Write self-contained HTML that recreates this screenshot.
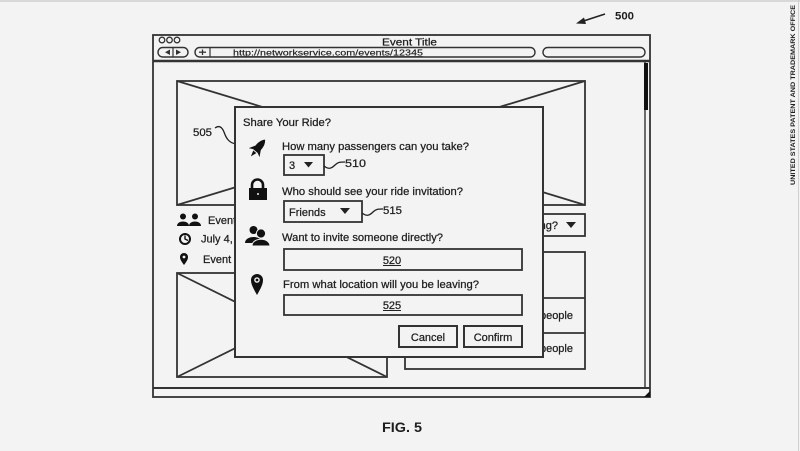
<!DOCTYPE html>
<html><head><meta charset="utf-8"><style>
html,body{margin:0;padding:0;background:#f3f3f3;}
svg{display:block;}
text{font-family:"Liberation Sans",Arial,sans-serif;fill:#1e1e1e;stroke:#1e1e1e;stroke-width:0.25;}
</style></head><body>
<svg width="800" height="451" viewBox="0 0 800 451" xmlns="http://www.w3.org/2000/svg">
<rect x="0" y="0" width="800" height="451" fill="#f3f3f3"/>
<line x1="0" y1="1" x2="800" y2="1" stroke="#d8d8d8" stroke-width="2"/>
<line x1="798.5" y1="0" x2="798.5" y2="451" stroke="#d0d0d0" stroke-width="1"/>

<!-- vertical side text -->
<text transform="translate(795,185) rotate(-90)" font-size="6.5" font-weight="bold" textLength="180" lengthAdjust="spacingAndGlyphs" fill="#333" style="stroke-width:0">UNITED STATES PATENT AND TRADEMARK OFFICE</text>

<!-- 500 label -->
<line x1="605" y1="14" x2="582" y2="21.5" stroke="#222" stroke-width="1.6"/>
<polygon points="576,23.5 584,17.5 586,24" fill="#222"/>
<text x="615" y="19.5" font-size="11" font-weight="bold" textLength="19" lengthAdjust="spacingAndGlyphs" style="stroke-width:0">500</text>

<!-- browser window -->
<g fill="none" stroke="#333" stroke-width="1.8">
<rect x="153" y="35" width="497" height="362"/>
<line x1="153" y1="61" x2="650" y2="61" stroke-width="2.4"/>
<line x1="153" y1="388" x2="650" y2="388" stroke-width="2"/>
<line x1="645" y1="61" x2="645" y2="388" stroke-width="1.4"/>
<circle cx="162" cy="40" r="2.8" stroke-width="1.3"/>
<circle cx="169.5" cy="40" r="2.8" stroke-width="1.3"/>
<circle cx="177" cy="40" r="2.8" stroke-width="1.3"/>
<rect x="158" y="47.5" width="30" height="9.5" rx="4.7" stroke-width="1.4"/>
<line x1="173" y1="48" x2="173" y2="57" stroke-width="1.2"/>
<rect x="195" y="47.5" width="340" height="9.5" rx="4.7" stroke-width="1.4"/>
<line x1="210" y1="48" x2="210" y2="57" stroke-width="1.2"/>
<rect x="543" y="47.5" width="102" height="9.5" rx="4.7" stroke-width="1.4"/>
</g>
<polygon points="165,52.2 170,49.5 170,55" fill="#333"/>
<polygon points="181,52.2 176,49.5 176,55" fill="#333"/>
<line x1="199" y1="52.2" x2="206" y2="52.2" stroke="#333" stroke-width="1.3"/>
<line x1="202.5" y1="49.5" x2="202.5" y2="55" stroke="#333" stroke-width="1.3"/>
<rect x="644" y="63" width="4" height="47" fill="#111"/>
<polygon points="644,397 650,391 650,397" fill="#111"/>
<text x="382" y="45.5" font-size="10" textLength="55" lengthAdjust="spacingAndGlyphs">Event Title</text>
<text x="233" y="55.5" font-size="8" textLength="190" lengthAdjust="spacingAndGlyphs" style="stroke-width:0.15">http://networkservice.com/events/12345</text>
<line x1="233" y1="56.5" x2="423" y2="56.5" stroke="#333" stroke-width="0.8"/>

<!-- top image placeholder -->
<g fill="none" stroke="#333" stroke-width="1.8">
<rect x="177" y="81" width="408" height="124"/>
<line x1="177" y1="81" x2="585" y2="205"/>
<line x1="585" y1="81" x2="177" y2="205"/>
<!-- bottom-left image placeholder -->
<rect x="177" y="273" width="210" height="104"/>
<line x1="177" y1="273" x2="387" y2="377"/>
<line x1="387" y1="273" x2="177" y2="377"/>
<!-- right dropdown -->
<rect x="420" y="214" width="165" height="22"/>
<!-- right panel -->
<rect x="405" y="252" width="180" height="117"/>
<line x1="405" y1="298" x2="585" y2="298"/>
<line x1="405" y1="333" x2="585" y2="333"/>
</g>
<text x="558" y="229" font-size="11" text-anchor="end">Leaving?</text>
<polygon points="566,222 576,222 571,228" fill="#222"/>
<text x="573" y="319" font-size="11" text-anchor="end">5 people</text>
<text x="573" y="352" font-size="11" text-anchor="end">3 people</text>

<!-- left info -->
<g fill="#111">
<circle cx="183" cy="216.5" r="3"/>
<path d="M177,226 C177,220 189,220 189,226 Z"/>
<circle cx="195" cy="216.5" r="3"/>
<path d="M189,226 C189,220 201,220 201,226 Z"/>
</g>
<g fill="none" stroke="#111">
<circle cx="185" cy="239" r="5" stroke-width="2"/>
<polyline points="185,235.5 185,239 188,240.5" stroke-width="1.4"/>
</g>
<path d="M184,265 C181,261 180,259 180,257 A4,4 0 0 1 188,257 C188,259 187,261 184,265 Z" fill="#111"/>
<circle cx="184" cy="257" r="1.4" fill="#f3f3f3"/>
<text x="208" y="224" font-size="11">Event Name</text>
<text x="201" y="242.5" font-size="11">July 4, 2014</text>
<text x="203" y="263" font-size="11">Event Location</text>

<!-- 505 label -->
<text x="193" y="136" font-size="11" textLength="19" lengthAdjust="spacingAndGlyphs">505</text>
<path d="M215,128 C219,125 222,127 224,132 C226,138 229,143 236,144" fill="none" stroke="#222" stroke-width="1.3"/>

<!-- dialog -->
<rect x="235" y="107" width="308" height="250" fill="#f3f3f3" stroke="#333" stroke-width="2"/>
<text x="243" y="126" font-size="11" textLength="88" lengthAdjust="spacingAndGlyphs">Share Your Ride?</text>

<!-- rocket -->
<g transform="translate(258,148) rotate(40)" fill="#111">
<path d="M0,-11 C4,-7 4,-1 3,4 L-3,4 C-4,-1 -4,-7 0,-11 Z"/>
<path d="M-3,-1 L-7,6 L-3,4 Z"/>
<path d="M3,-1 L7,6 L3,4 Z"/>
<path d="M-2,5 L0,11 L2,5 Z"/>
</g>
<text x="282" y="150" font-size="11" textLength="187" lengthAdjust="spacingAndGlyphs">How many passengers can you take?</text>
<rect x="284" y="155" width="40" height="20" fill="none" stroke="#333" stroke-width="1.8"/>
<text x="289" y="169" font-size="11">3</text>
<polygon points="304,162 313,162 308.5,167.5" fill="#222"/>
<path d="M324,166 C329,170 332,168 335,165 C338,162 340,162 345,162" fill="none" stroke="#222" stroke-width="1.3"/>
<text x="345" y="167" font-size="11" textLength="21" lengthAdjust="spacingAndGlyphs">510</text>

<!-- lock -->
<path d="M252,189 V185 A5.5,5.5 0 0 1 263,185 V189" fill="none" stroke="#111" stroke-width="2.6"/>
<rect x="249" y="188" width="18" height="12" fill="#111"/>
<circle cx="258" cy="194" r="1" fill="#f3f3f3"/>
<text x="282" y="195" font-size="11" textLength="181" lengthAdjust="spacingAndGlyphs">Who should see your ride invitation?</text>
<rect x="284" y="201" width="78" height="21" fill="none" stroke="#333" stroke-width="1.8"/>
<text x="289" y="216" font-size="11">Friends</text>
<polygon points="340,208 350,208 345,214" fill="#222"/>
<path d="M362,213 C367,217 370,215 373,212 C376,209 378,209 383,209" fill="none" stroke="#222" stroke-width="1.3"/>
<text x="383" y="214" font-size="11" textLength="19" lengthAdjust="spacingAndGlyphs">515</text>

<!-- people -->
<g fill="#111">
<circle cx="253.5" cy="230" r="4"/>
<path d="M245,243 C245,235 262,235 262,243 Z"/>
</g>
<g fill="#111" stroke="#f3f3f3" stroke-width="1">
<circle cx="261" cy="233.5" r="4.6"/>
<path d="M252,246 C252,237 270,237 270,246 Z"/>
</g>
<text x="282" y="241" font-size="11" textLength="161" lengthAdjust="spacingAndGlyphs">Want to invite someone directly?</text>
<rect x="284" y="249" width="238" height="21" fill="none" stroke="#333" stroke-width="1.8"/>
<text x="392" y="264" font-size="11" text-anchor="middle">520</text>
<line x1="383" y1="265.5" x2="401" y2="265.5" stroke="#222" stroke-width="0.9"/>

<!-- pin -->
<path d="M257,295 C253,288 251,284 251,280 A6,6 0 0 1 263,280 C263,284 261,288 257,295 Z" fill="#111"/>
<circle cx="257" cy="280" r="2.8" fill="#f3f3f3"/>
<circle cx="257" cy="280" r="1.4" fill="#111"/>
<text x="283" y="288" font-size="11" textLength="196" lengthAdjust="spacingAndGlyphs">From what location will you be leaving?</text>
<rect x="284" y="295" width="238" height="20" fill="none" stroke="#333" stroke-width="1.8"/>
<text x="392" y="309" font-size="11" text-anchor="middle">525</text>
<line x1="383" y1="310.5" x2="401" y2="310.5" stroke="#222" stroke-width="0.9"/>

<!-- buttons -->
<rect x="399" y="326" width="58" height="21" fill="none" stroke="#333" stroke-width="2"/>
<text x="428" y="341" font-size="11" text-anchor="middle">Cancel</text>
<rect x="464" y="326" width="58" height="21" fill="none" stroke="#333" stroke-width="2"/>
<text x="493" y="341" font-size="11" text-anchor="middle">Confirm</text>

<!-- caption -->
<text x="382" y="432" font-size="14" font-weight="bold" textLength="40" lengthAdjust="spacingAndGlyphs" style="stroke-width:0">FIG. 5</text>
</svg>
</body></html>
